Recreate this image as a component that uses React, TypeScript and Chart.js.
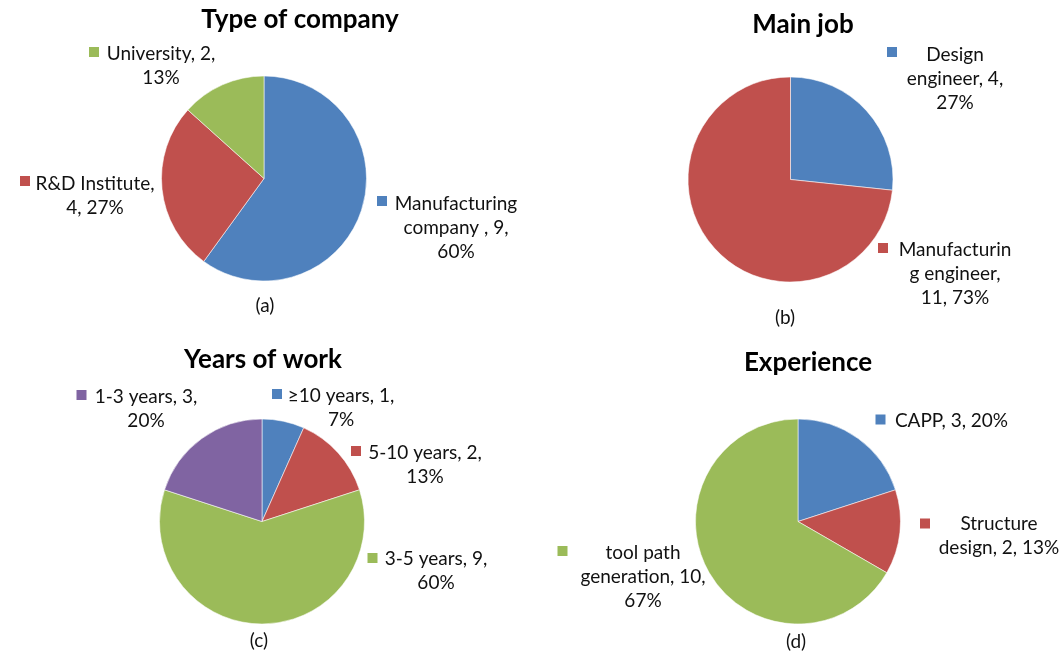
import React, { useEffect, useRef } from "react";
import { Chart, registerables } from "chart.js";

Chart.register(...registerables);

// ---------- data ----------
const companyCategories = ["Manufacturing company ", "R&D Institute", "University"];
const companyValues = [9, 4, 2];

const jobCategories = ["Design engineer", "Manufacturing engineer"];
const jobValues = [4, 11];

const yearsCategories = ["≥10 years", "5-10 years", "3-5 years", "1-3 years"];
const yearsValues = [1, 2, 9, 3];

const experienceCategories = ["CAPP", "Structure design", "tool path generation"];
const experienceValues = [3, 2, 10];

const chartTitles = ["Type of company", "Main job", "Years of work", "Experience"];
const chartCaptions = ["(a)", "(b)", "(c)", "(d)"];

// ---------- styles ----------
const BLUE = "#4F81BD";
const RED = "#C0504D";
const GREEN = "#9BBB59";
const PURPLE = "#8064A2";

const FONT = "Lato, 'Open Sans', sans-serif";
const TITLE_FONT = `bold 26px ${FONT}`;
const LABEL_FONT = `19px ${FONT}`;
const TEXT_COLOR = "#111111";
const PIE_RADIUS = 102.5;
const LINE_H = 24;

type LabelLayout = { key: [number, number]; cx: number; y: number; lens: number[] };
type Panel = {
  x: number; y: number; w: number; h: number;
  cats: string[]; vals: number[]; colors: string[];
  title: string; caption: string;
  center: [number, number]; titlePos: [number, number]; captionPos: [number, number];
  labels: LabelLayout[];
};

const panels: Panel[] = [
  {
    x: 0, y: 0, w: 531, h: 330,
    cats: companyCategories, vals: companyValues, colors: [BLUE, RED, GREEN],
    title: chartTitles[0], caption: chartCaptions[0],
    center: [264, 178.5], titlePos: [300, 20], captionPos: [265, 306],
    labels: [
      { key: [382, 201], cx: 456, y: 204, lens: [13, 12, 3] },
      { key: [25, 181], cx: 95, y: 184, lens: [14, 6] },
      { key: [94, 52], cx: 161, y: 54, lens: [14, 3] },
    ],
  },
  {
    x: 531, y: 0, w: 532, h: 330,
    cats: jobCategories, vals: jobValues, colors: [BLUE, RED],
    title: chartTitles[1], caption: chartCaptions[1],
    center: [790.5, 179.5], titlePos: [803, 25], captionPos: [785, 318],
    labels: [
      { key: [892, 52], cx: 955, y: 55, lens: [6, 12, 3] },
      { key: [883, 248], cx: 955, y: 250, lens: [12, 11, 7] },
    ],
  },
  {
    x: 0, y: 330, w: 531, h: 327,
    cats: yearsCategories, vals: yearsValues, colors: [BLUE, RED, GREEN, PURPLE],
    title: chartTitles[2], caption: chartCaptions[2],
    center: [262, 521.5], titlePos: [263, 360], captionPos: [259, 641],
    labels: [
      { key: [277, 394], cx: 341, y: 396, lens: [13, 2] },
      { key: [356, 451], cx: 425, y: 453, lens: [14, 3] },
      { key: [372.5, 558], cx: 436, y: 559, lens: [13, 3] },
      { key: [81.5, 395], cx: 146, y: 397, lens: [13, 3] },
    ],
  },
  {
    x: 531, y: 330, w: 532, h: 327,
    cats: experienceCategories, vals: experienceValues, colors: [BLUE, RED, GREEN],
    title: chartTitles[3], caption: chartCaptions[3],
    center: [798, 521.5], titlePos: [808, 363], captionPos: [796, 642],
    labels: [
      { key: [880.5, 419.5], cx: 951.5, y: 421, lens: [12] },
      { key: [925, 523.5], cx: 999, y: 524, lens: [9, 14] },
      { key: [562.5, 551], cx: 643, y: 553, lens: [9, 15, 3] },
    ],
  },
];

function splitLines(text: string, lens: number[]): string[] {
  const out: string[] = [];
  let i = 0;
  for (const n of lens) {
    out.push(text.substr(i, n));
    i += n;
    if (text[i] === " ") i += 1;
  }
  return out;
}

function PiePanel({ p }: { p: Panel }) {
  const ref = useRef<HTMLCanvasElement | null>(null);
  useEffect(() => {
    if (!ref.current) return;
    const cx = p.center[0] - p.x;
    const cy = p.center[1] - p.y;
    const half = 110;
    const total = p.vals.reduce((a, b) => a + b, 0);
    const overlay = {
      id: "overlay",
      afterDraw(chart: any) {
        const ctx = chart.ctx as CanvasRenderingContext2D;
        ctx.save();
        ctx.textAlign = "center";
        ctx.textBaseline = "middle";
        ctx.fillStyle = "#000";
        ctx.font = TITLE_FONT;
        ctx.fillText(p.title, p.titlePos[0] - p.x, p.titlePos[1] - p.y);
        ctx.font = LABEL_FONT;
        ctx.fillStyle = TEXT_COLOR;
        ctx.fillText(p.caption, p.captionPos[0] - p.x, p.captionPos[1] - p.y);
        p.labels.forEach((lab, i) => {
          const pct = Math.round((p.vals[i] / total) * 100);
          const full = `${p.cats[i]}, ${p.vals[i]}, ${pct}%`;
          const lines = splitLines(full, lab.lens);
          ctx.fillStyle = p.colors[i];
          ctx.fillRect(lab.key[0] - p.x - 5, lab.key[1] - p.y - 5, 10, 10);
          ctx.fillStyle = TEXT_COLOR;
          lines.forEach((ln, k) => {
            ctx.fillText(ln, lab.cx - p.x, lab.y - p.y + k * LINE_H);
          });
        });
        ctx.restore();
      },
    };
    const chart = new Chart(ref.current, {
      type: "pie",
      data: {
        labels: p.cats,
        datasets: [
          {
            data: p.vals,
            backgroundColor: p.colors,
            borderColor: "rgba(255,255,255,0.55)",
            borderWidth: 1,
            radius: PIE_RADIUS,
          } as any,
        ],
      },
      options: {
        responsive: false,
        animation: false,
        devicePixelRatio: 1,
        layout: {
          padding: {
            left: cx - half,
            right: p.w - cx - half,
            top: cy - half,
            bottom: p.h - cy - half,
          },
        },
        plugins: {
          legend: { display: false },
          tooltip: { enabled: false },
          title: { display: false },
        },
      },
      plugins: [overlay],
    });
    return () => chart.destroy();
  }, [p]);
  return (
    <canvas
      ref={ref}
      width={p.w}
      height={p.h}
      style={{ position: "absolute", left: p.x, top: p.y, width: p.w, height: p.h }}
    />
  );
}

export default function App() {
  return (
    <div
      style={{
        position: "fixed",
        left: 0,
        top: 0,
        width: 1063,
        height: 657,
        background: "#ffffff",
        overflow: "hidden",
      }}
    >
      {panels.map((p, i) => (
        <PiePanel key={i} p={p} />
      ))}
    </div>
  );
}
